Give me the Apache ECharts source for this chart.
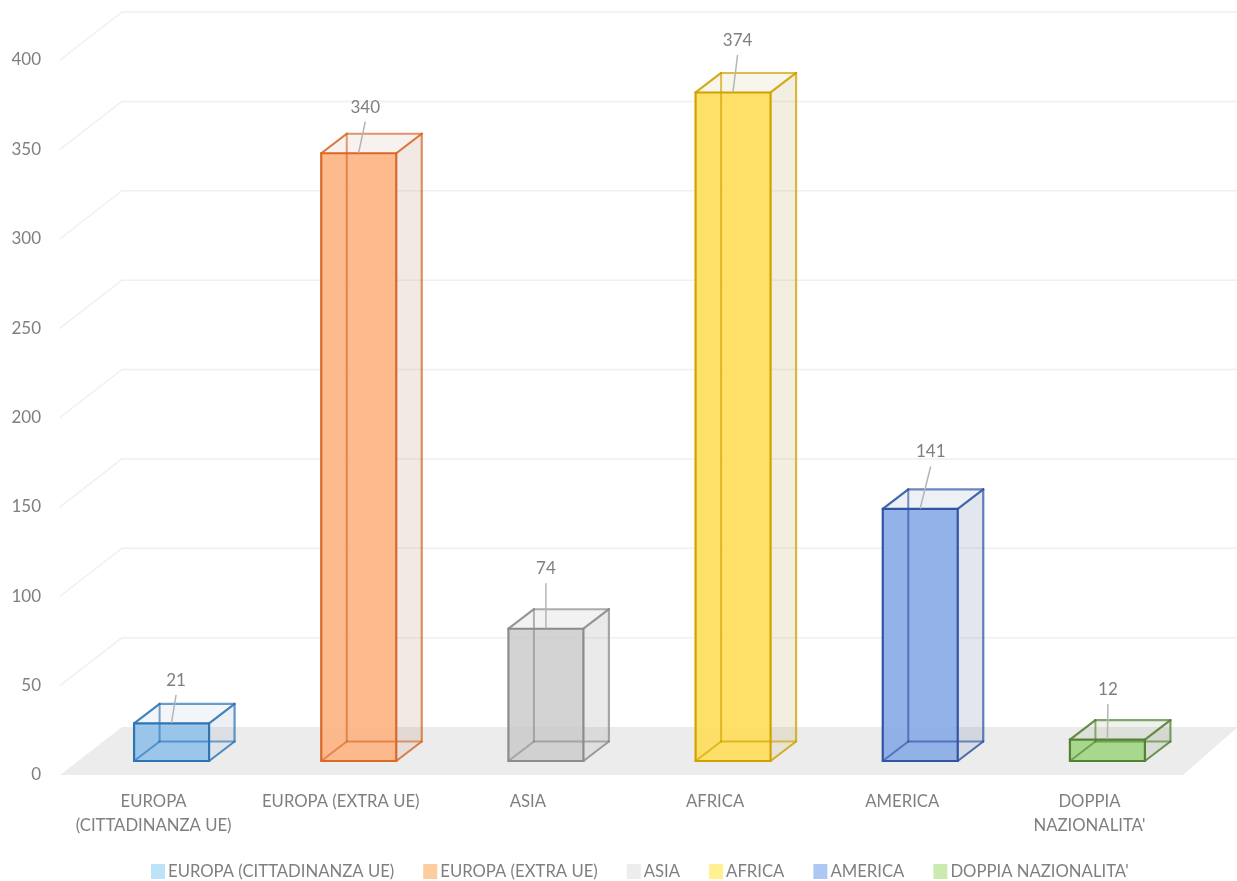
<!DOCTYPE html>
<html>
<head>
<meta charset="utf-8">
<style>html,body{margin:0;padding:0;background:#fff}#c{width:1237px;height:881px}</style>
<script src="https://cdn.jsdelivr.net/npm/echarts@6/dist/echarts.min.js"></script>
</head>
<body>
<div id="c"></div>
<script>
const categories = ['EUROPA\n(CITTADINANZA UE)', 'EUROPA (EXTRA UE)', 'ASIA', 'AFRICA', 'AMERICA', "DOPPIA\nNAZIONALITA'"];
const seriesNames = ['EUROPA (CITTADINANZA UE)', 'EUROPA (EXTRA UE)', 'ASIA', 'AFRICA', 'AMERICA', "DOPPIA NAZIONALITA'"];
const values = [21, 340, 74, 374, 141, 12];
const tickValues = [50, 100, 150, 200, 250, 300, 350, 400];

// styling and layout, kept apart from the data
const frontColors = ['rgba(140,190,235,.85)', 'rgba(253,178,128,.9)', 'rgba(200,200,200,.8)', 'rgba(255,222,90,.9)', 'rgba(135,170,230,.9)', 'rgba(155,210,125,.85)'];
const edgeColors = ['#2e75b6', '#d9682a', '#8c8c8c', '#cfa200', '#2f55a4', '#548235'];
const sideColors = ['rgba(120,150,185,.14)', 'rgba(190,145,120,.2)', 'rgba(150,150,150,.2)', 'rgba(190,170,100,.2)', 'rgba(110,130,175,.2)', 'rgba(120,140,100,.2)'];
const legendColors = ['#bde3f9', '#fbcd9f', '#ededed', '#fff18f', '#aec8f3', '#c9ebb0'];
const leaderOffsets = [[4.5, 44], [6.5, 47], [0, 61], [4.5, 53], [10.5, 58], [0.5, 51]];
const DX = 25.5, DY = 19.5, BAR_W = 75, SHIFT_X = 18, SHIFT_Y = 14;
const WALL_X = 62, WALL_Y = 48, BACK_EXT = 55;
const FONT = 'Lato';
const TEXT = '#7f7f7f';

function poly(points, style, z2) {
  return { type: 'polygon', shape: { points }, style, z2: z2 || 0, silent: true };
}
function line(a, b, stroke, width, opacity, z2) {
  return { type: 'line', shape: { x1: a[0], y1: a[1], x2: b[0], y2: b[1] },
           style: { stroke, lineWidth: width, opacity: opacity == null ? 1 : opacity, lineCap: 'round' }, z2: z2 || 0, silent: true };
}

function renderFloor(params, api) {
  const cs = params.coordSys;
  const y0 = api.coord([0, 0])[1];
  const l = cs.x, r = cs.x + cs.width;
  return poly([[l, y0], [l + WALL_X, y0 - WALL_Y], [r + BACK_EXT, y0 - WALL_Y], [r, y0]], { fill: '#ececec' });
}

function renderWall(params, api) {
  const cs = params.coordSys;
  const y = api.coord([0, api.value(1)])[1];
  const l = cs.x, r = cs.x + cs.width;
  return { type: 'group', children: [
    line([l, y], [l + WALL_X, y - WALL_Y], '#f0f0f0', 1.5),
    line([l + WALL_X, y - WALL_Y], [r + BACK_EXT, y - WALL_Y], '#f0f0f0', 1.5)
  ]};
}

function makeBox(i) {
  return function (params, api) {
    const p = api.coord([api.value(0), api.value(1)]);
    const b = api.coord([api.value(0), 0]);
    const cx = p[0] + SHIFT_X;
    const L = cx - BAR_W / 2, R = cx + BAR_W / 2;
    const T = p[1] - SHIFT_Y, B = b[1] - SHIFT_Y;
    const edge = edgeColors[i];
    const off = leaderOffsets[i];
    const children = [
      poly([[L, B], [R, B], [R + DX, B - DY], [L + DX, B - DY]], { fill: 'rgba(255,255,255,.35)' }, 0),
      poly([[R, T], [R + DX, T - DY], [R + DX, B - DY], [R, B]], { fill: sideColors[i] }, 0),
      poly([[L, T], [L + DX, T - DY], [R + DX, T - DY], [R, T]], { fill: sideColors[i], opacity: 0.6 }, 0),
      line([L + DX, T - DY], [R + DX, T - DY], edge, 2.2, 0.7, 1),
      line([R + DX, T - DY], [R + DX, B - DY], edge, 2.2, 0.75, 1),
      line([R + DX, B - DY], [R, B], edge, 2, 0.85, 1),
      line([L, T], [L + DX, T - DY], edge, 2.2, 0.9, 1),
      line([R, T], [R + DX, T - DY], edge, 2.2, 0.9, 1),
      // front face, with the hidden edges seen through it
      poly([[L, T], [R, T], [R, B], [L, B]], { fill: frontColors[i] }, 2),
      line([L + DX, B - DY], [L + DX, T - DY], edge, 2, 0.65, 3),
      line([L + DX, B - DY], [R + DX, B - DY], edge, 2, 0.65, 3),
      line([L, B], [L + DX, B - DY], edge, 2, 0.65, 3),
      poly([[L, T], [R, T], [R, B], [L, B]], { fill: 'none', stroke: edge, lineWidth: 2.2 }, 4),
      line([cx, T - 1], [cx + off[0] * 0.98, T - off[1] + 16], '#b5b5b5', 1.5, 1, 5),
      { type: 'text', z2: 6, silent: true,
        style: { x: cx + off[0], y: T - off[1] + 1, text: String(api.value(1)), fill: TEXT,
                 font: '17px ' + FONT, align: 'center', verticalAlign: 'middle' } }
    ];
    return { type: 'group', children };
  };
}

const series = [
  { type: 'custom', name: '_floor', coordinateSystem: 'cartesian2d', data: [[0, 0]], encode: { x: 0, y: 1 }, renderItem: renderFloor, clip: false, silent: true, z: 1 },
  { type: 'custom', name: '_walls', coordinateSystem: 'cartesian2d', data: tickValues.map(v => [0, v]), encode: { x: 0, y: 1 }, renderItem: renderWall, clip: false, silent: true, z: 1 }
];
seriesNames.forEach((name, i) => {
  series.push({
    type: 'custom', name, coordinateSystem: 'cartesian2d',
    data: [[i, values[i]]], encode: { x: 0, y: 1 },
    renderItem: makeBox(i), clip: false, z: 2 + i,
    itemStyle: { color: legendColors[i] }
  });
});

const chart = echarts.init(document.getElementById('c'), null, { renderer: 'canvas' });
chart.setOption({
  animation: false,
  backgroundColor: '#fff',
  textStyle: { fontFamily: FONT },
  grid: { left: 60, right: 54, top: 60, bottom: 106, containLabel: false },
  legend: {
    data: seriesNames, left: 146, top: 858, itemWidth: 14, itemHeight: 15, itemGap: 29, icon: 'rect',
    selectedMode: false,
    textStyle: { color: TEXT, fontFamily: FONT, fontSize: 16.7, padding: [0, 0, 0, -2] }
  },
  xAxis: {
    type: 'category', data: categories,
    axisLine: { show: false }, axisTick: { show: false }, splitLine: { show: false },
    axisLabel: { color: TEXT, fontFamily: FONT, fontSize: 16.7, lineHeight: 24, margin: 15, interval: 0 }
  },
  yAxis: {
    type: 'value', min: 0, max: 400, interval: 50,
    axisLine: { show: false }, axisTick: { show: false }, splitLine: { show: false },
    axisLabel: { color: TEXT, fontFamily: FONT, fontSize: 17, margin: 19, padding: [3, 0, 0, 0] }
  },
  series
});
</script>
</body>
</html>
